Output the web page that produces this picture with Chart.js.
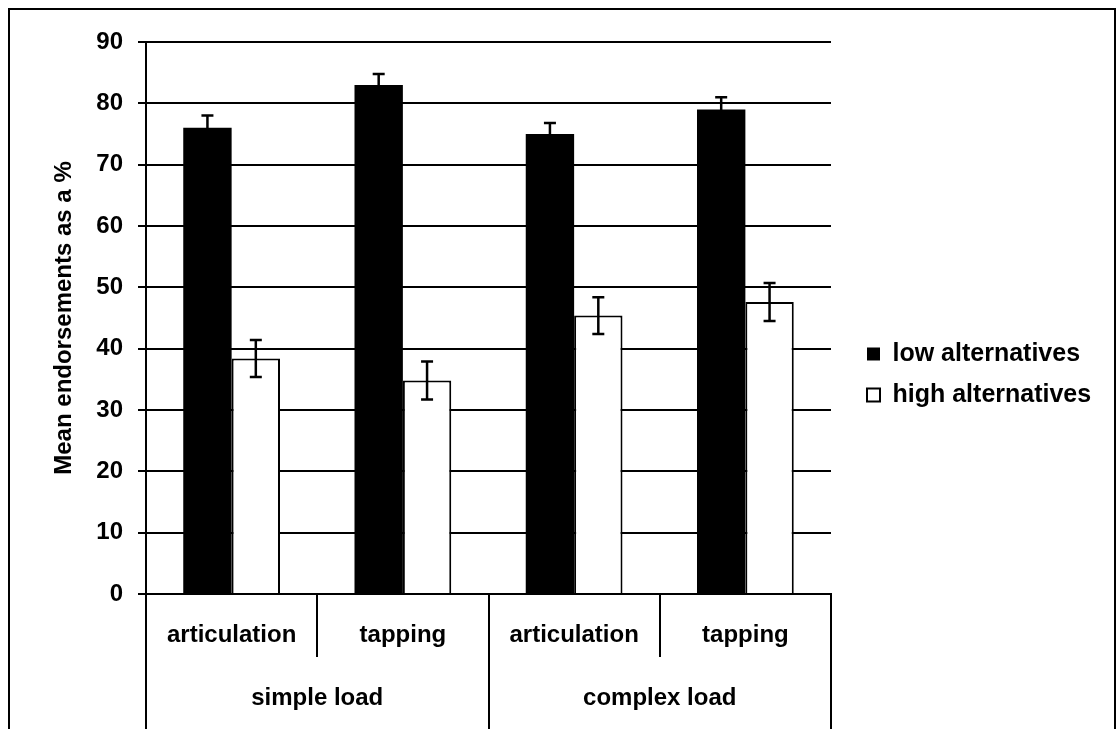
<!DOCTYPE html>
<html>
<head>
<meta charset="utf-8">
<script src="https://cdn.jsdelivr.net/npm/chart.js@4.4.0/dist/chart.umd.min.js"></script>
<style>
  body { margin: 0; background: #fff; overflow: hidden; }
  #frame { position: absolute; left: 8px; top: 8px; width: 1108px; height: 800px; border: 2px solid #000; box-sizing: border-box; }
  #wrap { position: absolute; left: 0; top: 0; width: 1117px; height: 729px; }
</style>
</head>
<body>
<div id="frame"></div>
<div id="wrap"><canvas id="myChart"></canvas></div>
<script>
// values
var categories = ['articulation', 'tapping', 'articulation', 'tapping'];
var groups = ['simple load', 'complex load'];
var lowAlt = [76, 83, 75, 79];
var lowErr = [2, 1.8, 1.8, 2];
var highAlt = [38.4, 34.8, 45.4, 47.6];
var highErr = [3, 3.1, 3, 3.1];
var yTicks = [0, 10, 20, 30, 40, 50, 60, 70, 80, 90];

Chart.defaults.font.family = '"Liberation Sans", Arial, sans-serif';
Chart.defaults.font.size = 24;
Chart.defaults.font.weight = 'bold';
Chart.defaults.color = '#000';

// error bars, drawn on top of the bars
var errorBars = {
  id: 'errorBars',
  afterDatasetsDraw: function(chart) {
    var ctx = chart.ctx, y = chart.scales.y;
    var errs = [lowErr, highErr];
    ctx.save();
    ctx.strokeStyle = '#000';
    ctx.lineWidth = 2.5;
    chart.data.datasets.forEach(function(ds, d) {
      var meta = chart.getDatasetMeta(d);
      meta.data.forEach(function(bar, i) {
        var top = y.getPixelForValue(ds.data[i] + errs[d][i]);
        var bot = y.getPixelForValue(ds.data[i] - errs[d][i]);
        ctx.beginPath();
        ctx.moveTo(bar.x, top); ctx.lineTo(bar.x, bot);
        ctx.moveTo(bar.x - 6, top); ctx.lineTo(bar.x + 6, top);
        ctx.moveTo(bar.x - 6, bot); ctx.lineTo(bar.x + 6, bot);
        ctx.stroke();
      });
    });
    ctx.restore();
  }
};

// keep plot right edge fixed and move the legend a bit right and up
var legendSpace = {
  id: 'legendSpace',
  beforeInit: function(chart) {
    var lg = chart.legend;
    var fit = lg.fit;
    lg.fit = function() { fit.call(this); this.width = 286; };
  },
  afterLayout: function(chart) {
    chart.legend.left += 20;
    chart.legend.right += 20;
    chart.legend.top -= 11;
    chart.legend.bottom -= 11;
  }
};

var ctx = document.getElementById('myChart').getContext('2d');
var myChart = new Chart(ctx, {
  type: 'bar',
  data: {
    labels: categories,
    datasets: [{
      label: 'low alternatives',
      data: lowAlt,
      backgroundColor: '#000',
      borderWidth: 0
    }, {
      label: 'high alternatives',
      data: highAlt,
      backgroundColor: '#fff',
      borderColor: '#000',
      borderWidth: 2
    }]
  },
  options: {
    responsive: true,
    maintainAspectRatio: false,
    animation: false,
    categoryPercentage: 0.565,
    barPercentage: 1.0,
    layout: { padding: { top: 42, bottom: 0, left: 0, right: 0 } },
    plugins: {
      tooltip: { enabled: false },
      legend: {
        position: 'right',
        labels: { boxWidth: 13, boxHeight: 13, padding: 16, color: '#000', font: { size: 25 } }
      }
    },
    scales: {
      y: {
        min: 0,
        max: 90,
        afterBuildTicks: function(s) { s.ticks = yTicks.map(function(v) { return { value: v }; }); },
        afterFit: function(s) { s.width = 146; },
        grid: { color: '#000', lineWidth: 2, tickLength: 8 },
        border: { color: '#000', width: 2 },
        ticks: { padding: 15 },
        title: { display: true, text: 'Mean endorsements as a %', padding: { top: 50, bottom: 0 } }
      },
      x: {
        weight: 0,
        afterFit: function(s) { s.height = 63; },
        grid: { offset: true, drawOnChartArea: false, color: '#000', lineWidth: 2, tickLength: 63 },
        border: { color: '#000', width: 2 },
        ticks: { padding: -36, maxRotation: 0, autoSkip: false }
      },
      x2: {
        type: 'category',
        position: 'bottom',
        labels: groups,
        offset: true,
        weight: 1,
        afterFit: function(s) { s.height = 72; },
        grid: { offset: true, drawOnChartArea: false, color: '#000', lineWidth: 2, tickLength: 80 },
        border: { display: false },
        ticks: { padding: -53, maxRotation: 0, autoSkip: false }
      }
    }
  },
  plugins: [errorBars, legendSpace]
});
</script>
</body>
</html>
